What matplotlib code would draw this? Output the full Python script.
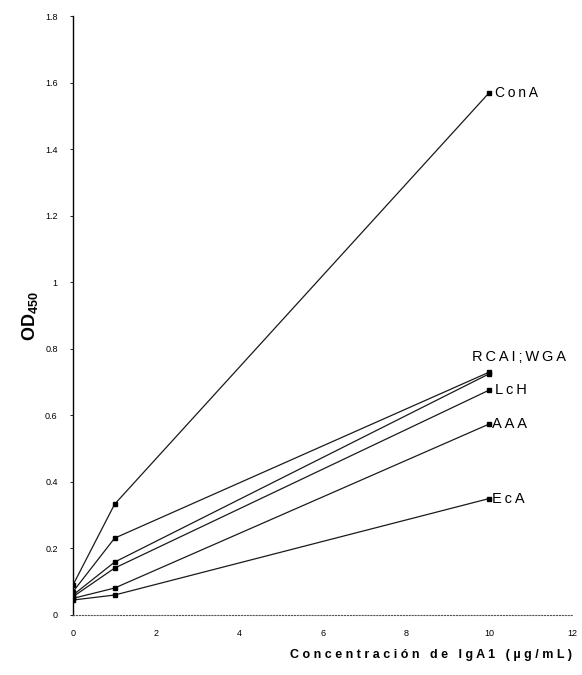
import matplotlib.pyplot as plt

plt.rcParams['font.family'] = ['Liberation Sans', 'DejaVu Sans']
plt.rcParams['mathtext.fontset'] = 'custom'
plt.rcParams['mathtext.bf'] = 'Liberation Sans:bold'

# concentración de IgA1 (µg/mL)
conc = [0, 1, 10]

# OD por lectina
cona = [0.09, 0.333, 1.57]
rcai = [0.07, 0.231, 0.73]
wga = [0.06, 0.159, 0.725]
lch = [0.055, 0.141, 0.676]
aaa = [0.05, 0.081, 0.574]
eca = [0.045, 0.06, 0.35]

xticks = [0, 2, 4, 6, 8, 10, 12]
yticks = [0, 0.2, 0.4, 0.6, 0.8, 1.0, 1.2, 1.4, 1.6, 1.8]
ytick_labels = ['0', '0.2', '0.4', '0.6', '0.8', '1', '1.2', '1.4', '1.6', '1.8']


def spaced(s):
    return '\u2009'.join(s)


fig = plt.figure(figsize=(5.82, 6.75), dpi=100)
ax = fig.add_axes([0.1254, 0.0889, 0.858, 0.887])

series = [cona, rcai, wga, lch, aaa, eca]
for ys in series:
    ax.plot(conc, ys, color='#1a1a1a', linewidth=0.9, marker='s', markersize=2.6,
            markerfacecolor='black', markeredgecolor='black')

# etiquetas al final de cada curva
ax.text(10.15, cona[-1], spaced('ConA'), fontsize=10, va='center', ha='left')
ax.text(9.6, rcai[-1] + 0.045, spaced('RCAI;WGA'), fontsize=10.5, va='center', ha='left')
ax.text(10.15, lch[-1], spaced('LcH'), fontsize=10.5, va='center', ha='left')
ax.text(10.08, aaa[-1], spaced('AAA'), fontsize=10.5, va='center', ha='left')
ax.text(10.08, eca[-1], spaced('EcA'), fontsize=10.5, va='center', ha='left')

ax.set_xlim(0, 12)
ax.set_ylim(0, 1.8)
ax.set_xticks(xticks)
ax.set_yticks(yticks)
ax.set_yticklabels(ytick_labels)
ax.tick_params(axis='both', labelsize=6.5, length=2, width=0.6, pad=9)
ax.tick_params(axis='x', length=0, pad=10)

ax.spines['top'].set_visible(False)
ax.spines['right'].set_visible(False)
ax.spines['left'].set_linewidth(1.0)
ax.spines['bottom'].set_linestyle(':')
ax.spines['bottom'].set_color('#555555')

ax.set_ylabel(r'$\mathbf{OD_{450}}$', fontsize=13, labelpad=4)
ax.set_xlabel('C o n c e n t r a c i ó n   d e   I g A 1   ( µ g / m L )',
              fontsize=9, fontweight='bold', loc='right', labelpad=8)

fig.savefig('out.png', dpi=100)
